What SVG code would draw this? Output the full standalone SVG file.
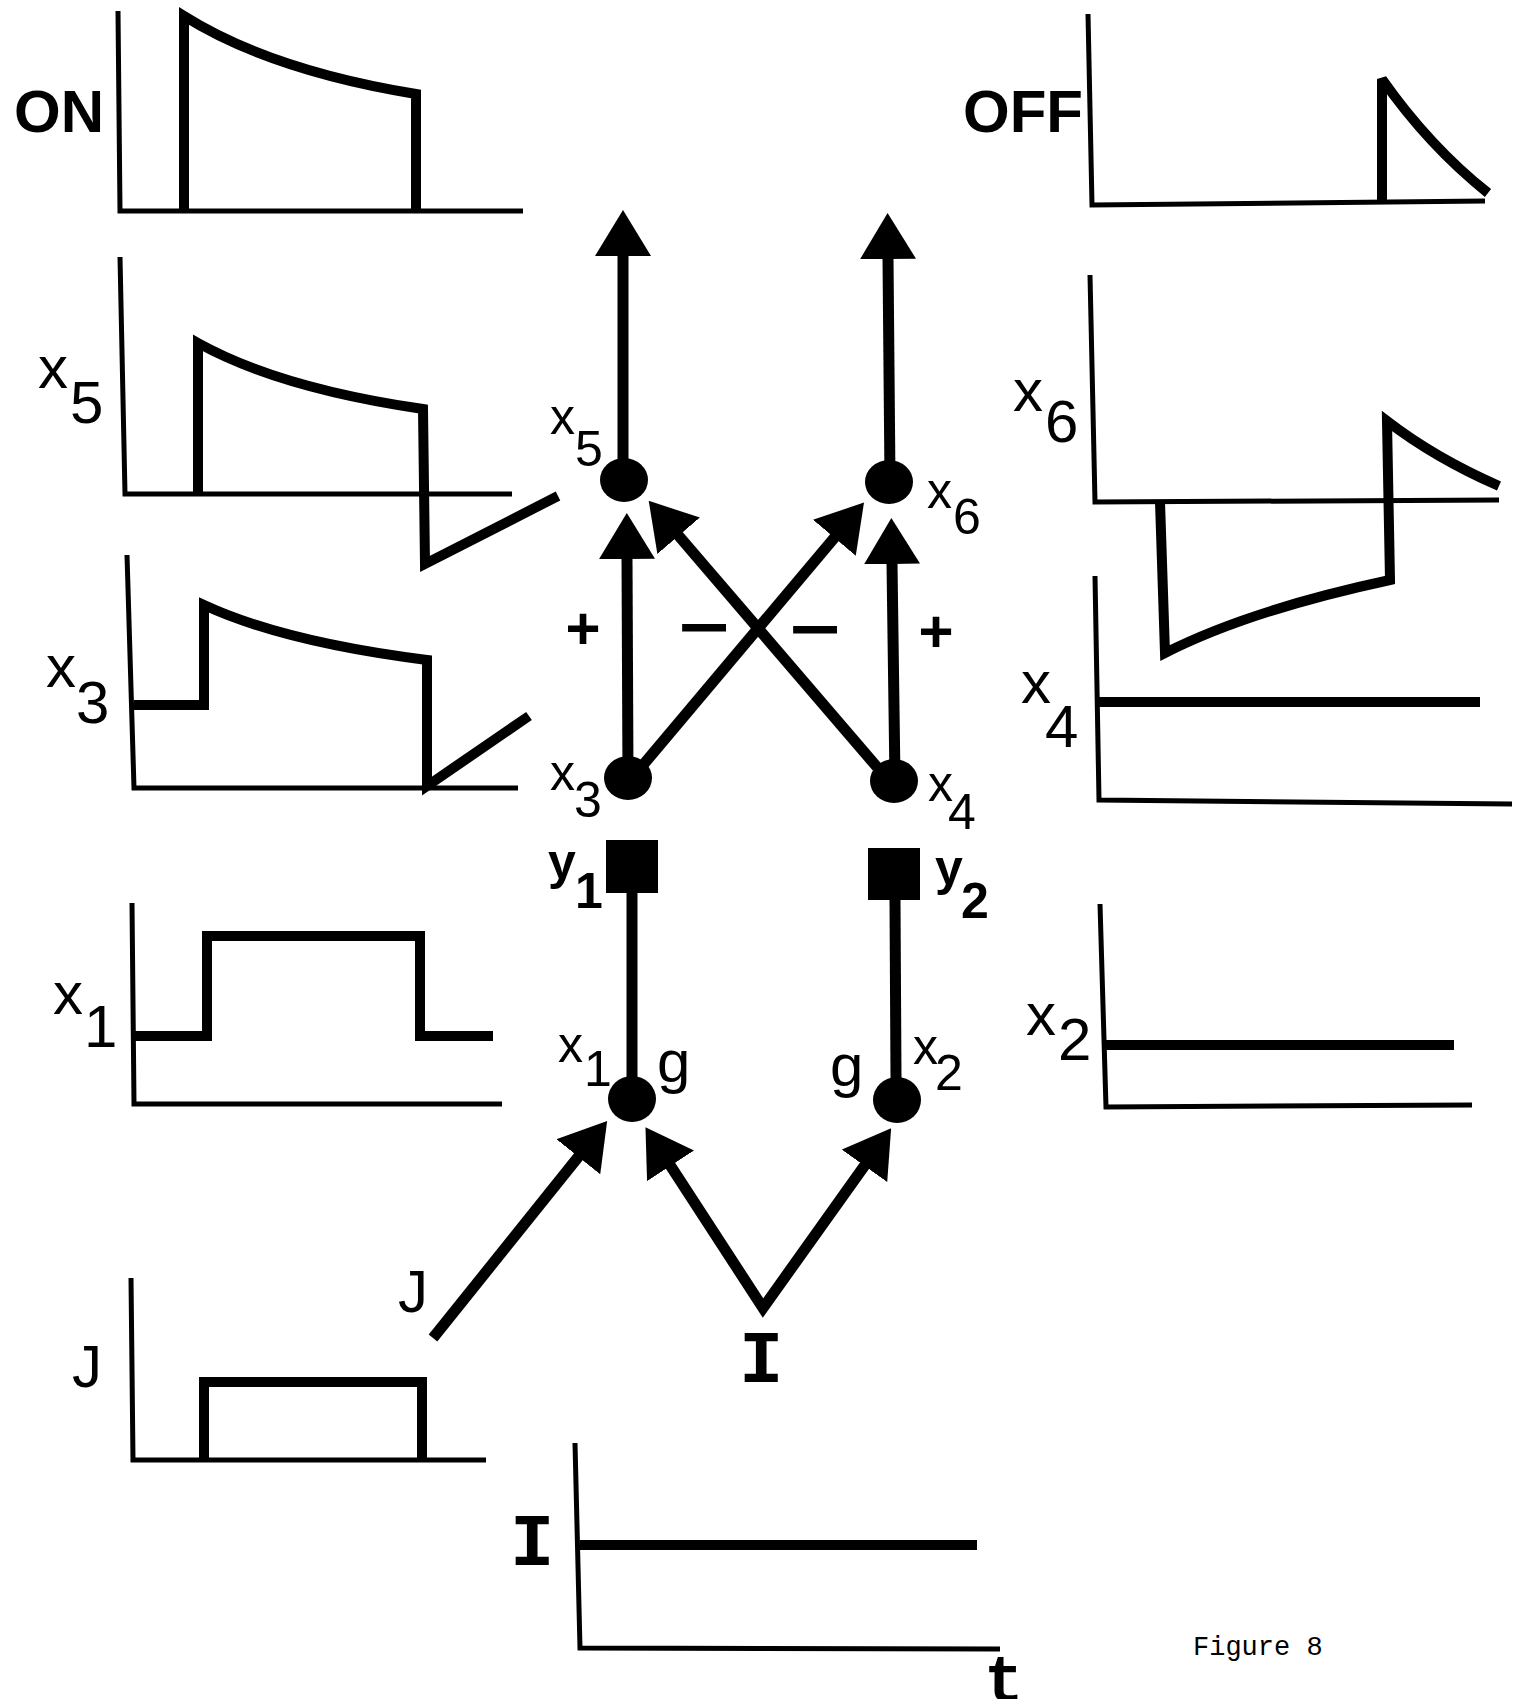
<svg xmlns="http://www.w3.org/2000/svg" width="1525" height="1699" viewBox="0 0 1525 1699">
<defs>
<style>
.axis{fill:none;stroke:#000;stroke-width:5;stroke-linejoin:miter}
.sig{fill:none;stroke:#000;stroke-width:10;stroke-linejoin:miter;stroke-miterlimit:2.5}
.conn{fill:none;stroke:#000;stroke-width:11;stroke-linejoin:miter}
.lab{font-family:"Liberation Sans",Arial,sans-serif;font-size:60px;fill:#000}
.nl{font-family:"Liberation Sans",Arial,sans-serif;font-size:50px;fill:#000}
.ty{font-family:"Liberation Mono","Courier New",monospace;fill:#000}
.node{fill:#000}
</style>
<marker id="ah" viewBox="0 0 46 56" refX="1" refY="28" markerWidth="46" markerHeight="56" markerUnits="userSpaceOnUse" orient="auto"><path d="M0,0 L46,28 L0,56 Z" fill="#000"/></marker>
<marker id="ahs" viewBox="0 0 46 56" refX="1" refY="28" markerWidth="46" markerHeight="56" markerUnits="userSpaceOnUse" orient="auto-start-reverse"><path d="M0,0 L46,28 L0,56 Z" fill="#000"/></marker>
</defs>
<rect width="1525" height="1699" fill="#fff"/>

<!-- Time-course charts -->
<g id="chart-ON">
<path class="axis" d="M118,11 L120,211 L523,211"/>
<path class="sig" d="M184,211 L184,16 Q270,70 416,94 L416,211"/>
<text class="lab" x="14" y="132" font-weight="bold">ON</text>
</g>
<g id="chart-x5">
<path class="axis" d="M120,257 L125,494 L512,494"/>
<path class="sig" d="M198,494 L198,343 Q279,388 423,409 L425,564 L558,496"/>
<text class="lab" x="38" y="388">x<tspan x="70" y="423">5</tspan></text>
</g>
<g id="chart-x3">
<path class="axis" d="M127,555 L134,788 L518,788"/>
<path class="sig" d="M134,705 L204,705 L204,605 Q284,642 427,660 L427,786 L529,716"/>
<text class="lab" x="46" y="687">x<tspan x="76" y="723">3</tspan></text>
</g>
<g id="chart-x1">
<path class="axis" d="M132,903 L134,1104 L502,1104"/>
<path class="sig" d="M134,1036 L207,1036 L207,936 L420,936 L420,1036 L493,1036"/>
<text class="lab" x="53" y="1014">x<tspan x="84" y="1047">1</tspan></text>
</g>
<g id="chart-J">
<path class="axis" d="M131,1278 L133,1460 L486,1460"/>
<path class="sig" d="M204,1460 L204,1382 L422,1382 L422,1460"/>
<text class="lab" x="72" y="1387">J</text>
</g>
<g id="chart-OFF">
<path class="axis" d="M1088,14 L1092,205 L1485,201"/>
<path class="sig" d="M1382,203 L1382,79 Q1429,146 1488,193"/>
<text class="lab" x="963" y="132" font-weight="bold">OFF</text>
</g>
<g id="chart-x6">
<path class="axis" d="M1090,275 L1095,502 L1499,500"/>
<path class="sig" d="M1160,502 L1165,653 Q1250,610 1390,580 L1387,421 Q1435,458 1499,486"/>
<text class="lab" x="1013" y="411">x<tspan x="1045" y="442">6</tspan></text>
</g>
<g id="chart-x4">
<path class="axis" d="M1095,576 L1099,800 L1512,804"/>
<path class="sig" d="M1099,702 L1480,702"/>
<text class="lab" x="1021" y="703">x<tspan x="1045" y="747">4</tspan></text>
</g>
<g id="chart-x2">
<path class="axis" d="M1100,904 L1106,1107 L1472,1105"/>
<path class="sig" d="M1106,1045 L1454,1045"/>
<text class="lab" x="1026" y="1035">x<tspan x="1058" y="1060">2</tspan></text>
</g>
<g id="chart-I">
<path class="axis" d="M575,1443 L580,1648 L1000,1649"/>
<path class="sig" d="M580,1545 L977,1545"/>
<text class="ty" x="510" y="1565" font-size="74" font-weight="bold">I</text>
<text class="ty" x="984" y="1701" font-size="66" font-weight="bold">t</text>
</g>

<!-- Connectors -->
<g id="connectors">
<path class="conn" d="M623,480 L623,255" marker-end="url(#ah)"/>
<path class="conn" d="M890,481 L888,258" marker-end="url(#ah)"/>
<path class="conn" d="M628,778 L627,558" marker-end="url(#ah)"/>
<path class="conn" d="M895,780 L892,563" marker-end="url(#ah)"/>
<path class="conn" d="M643,765 L835,537" marker-end="url(#ah)"/>
<path class="conn" d="M877,767 L678,535" marker-end="url(#ah)"/>
<path class="conn" d="M632,893 L632,1077"/>
<path class="conn" d="M895,900 L896,1078"/>
<path class="conn" d="M433,1338 L579,1156" marker-end="url(#ah)"/>
<path class="conn" d="M670,1165 L763,1308 L865,1165" marker-start="url(#ahs)" marker-end="url(#ah)"/>
<text class="nl" x="583" y="649" font-weight="bold" style="font-size:60px" text-anchor="middle">+</text>
<text class="nl" font-weight="bold" text-anchor="middle" transform="translate(704,651) scale(1.75,1.4)">−</text>
<text class="nl" font-weight="bold" text-anchor="middle" transform="translate(815,653) scale(1.75,1.4)">−</text>
<text class="nl" x="936" y="652" font-weight="bold" style="font-size:60px" text-anchor="middle">+</text>
</g>

<!-- Network nodes -->
<g id="node-x5">
<ellipse class="node" cx="624" cy="480" rx="24" ry="22"/>
<text class="nl" x="550" y="434">x<tspan x="575" y="466">5</tspan></text>
</g>
<g id="node-x6">
<ellipse class="node" cx="889" cy="482" rx="24" ry="22"/>
<text class="nl" x="927" y="508">x<tspan x="953" y="534">6</tspan></text>
</g>
<g id="node-x3">
<ellipse class="node" cx="628" cy="778" rx="24" ry="22"/>
<text class="nl" x="550" y="790">x<tspan x="574" y="817">3</tspan></text>
</g>
<g id="node-x4">
<ellipse class="node" cx="894" cy="781" rx="24" ry="22"/>
<text class="nl" x="928" y="801">x<tspan x="948" y="829">4</tspan></text>
</g>
<g id="node-y1">
<rect class="node" x="606" y="840" width="52" height="53"/>
<text class="nl" x="548" y="879" font-weight="bold">y<tspan x="575" y="908">1</tspan></text>
</g>
<g id="node-y2">
<rect class="node" x="868" y="848" width="52" height="52"/>
<text class="nl" x="935" y="885" font-weight="bold">y<tspan x="961" y="918">2</tspan></text>
</g>
<g id="node-x1">
<ellipse class="node" cx="632" cy="1099" rx="24" ry="23"/>
<text class="nl" x="558" y="1062">x<tspan x="584" y="1086">1</tspan></text>
<text class="nl" x="657" y="1082" style="font-size:60px">g</text>
</g>
<g id="node-x2">
<ellipse class="node" cx="897" cy="1100" rx="24" ry="23"/>
<text class="nl" x="913" y="1064">x<tspan x="935" y="1090">2</tspan></text>
<text class="nl" x="830" y="1086" style="font-size:60px">g</text>
</g>
<g id="node-J">
<text class="lab" x="398" y="1312">J</text>
</g>
<g id="node-I">
<text class="ty" x="739" y="1382" font-size="74" font-weight="bold">I</text>
</g>

<text class="ty" x="1193" y="1655" font-size="27">Figure 8</text>
</svg>
